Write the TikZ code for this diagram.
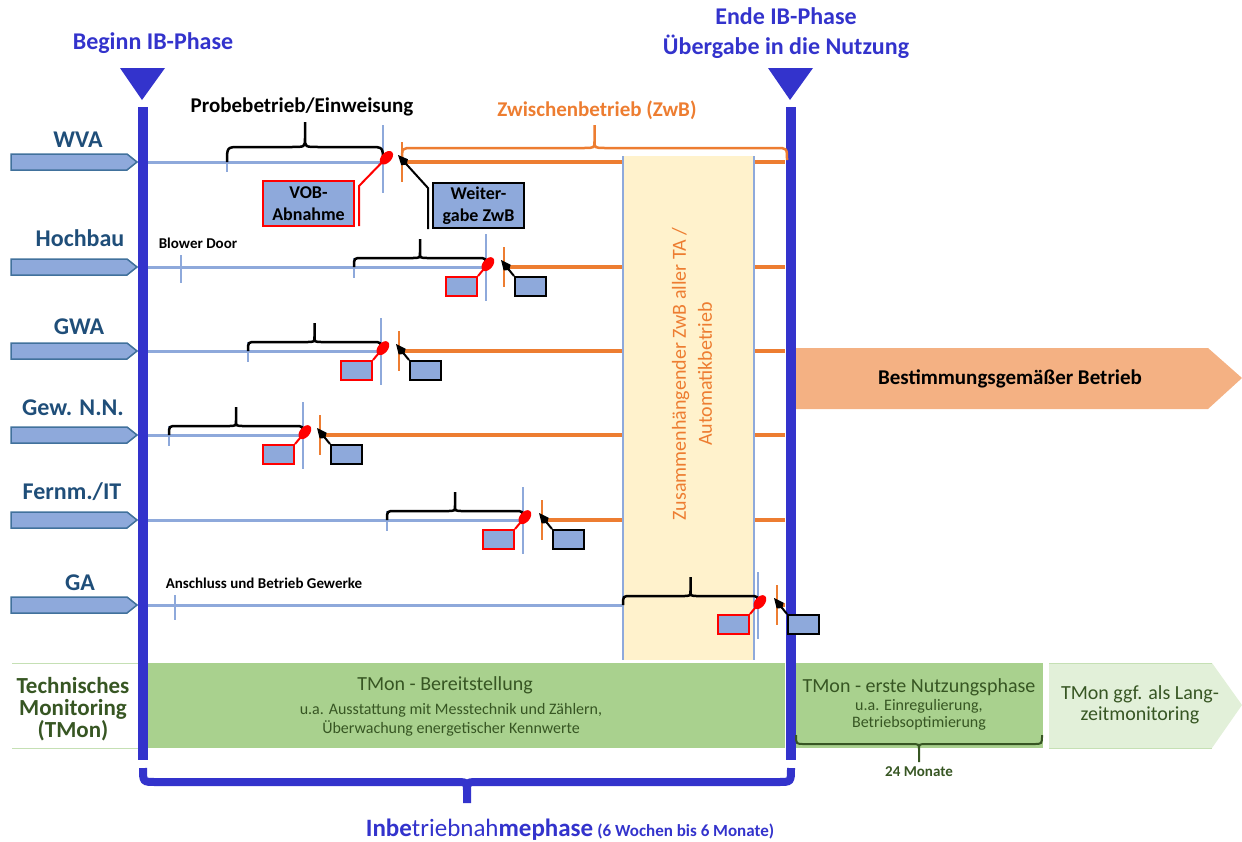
\documentclass[tikz,border=0pt]{standalone}
\usepackage{fontspec}
\setmainfont{Carlito}
\usepackage{tikz}
\usetikzlibrary{arrows.meta}

\definecolor{ibblue}{HTML}{3333CC}
\definecolor{rowblue}{HTML}{1F4E79}
\definecolor{lightblue}{HTML}{8EA9DB}
\definecolor{edgeblue}{HTML}{41719C}
\definecolor{zwborange}{HTML}{ED7D31}
\definecolor{zwbyellow}{HTML}{FFF2CC}
\definecolor{tmongreen}{HTML}{A9D18E}
\definecolor{tmonpale}{HTML}{E2F0D9}
\definecolor{tmonrand}{HTML}{C5E0B4}
\definecolor{tmondark}{HTML}{375623}
\definecolor{betriebfarbe}{HTML}{F4B183}

% curly brace: x1, x2, y of the ends, offset of the bar, offset of the tip, options
\newcommand{\klammer}[6]{%
  \pgfmathsetmacro{\kmitte}{(#1+#2)/2}%
  \pgfmathsetmacro{\kquer}{#3-(#4)}%
  \pgfmathsetmacro{\kknick}{#3-1.6*(#4)}%
  \pgfmathsetmacro{\kspitze}{#3-(#5)}%
  \pgfmathsetmacro{\krund}{0.9*abs(#4)}%
  \draw[#6] (#1,#3) .. controls (#1,\kquer) .. (#1+\krund,\kquer) -- (\kmitte-\krund,\kquer)
    .. controls (\kmitte,\kquer) .. (\kmitte,\kknick) -- (\kmitte,\kspitze) -- (\kmitte,\kknick)
    .. controls (\kmitte,\kquer) .. (\kmitte+\krund,\kquer) -- (#2-\krund,\kquer) .. controls (#2,\kquer) .. (#2,#3);
}

\begin{document}
\begin{tikzpicture}[x=1pt,y=-1pt,
    phasetitel/.style={text=ibblue, font={\bfseries\fontsize{24}{30}\selectfont}, align=center},
    zeilentitel/.style={text=rowblue, font={\bfseries\fontsize{24}{26}\selectfont}},
    zeilenpfeil/.style={fill=lightblue, draw=edgeblue, line width=1.5pt},
    zeitlinie/.style={lightblue, line width=3pt},
    zwblinie/.style={zwborange, line width=3.5pt},
    strich/.style={lightblue, line width=2.5pt},
    zwbstrich/.style={zwborange, line width=2.5pt},
    klammerstil/.style={black, line width=2.5pt},
    zwbklammer/.style={zwborange, line width=2.5pt},
    ibbalken/.style={ibblue, line width=10pt},
    vobbox/.style={draw=red, line width=2pt, fill=lightblue, inner sep=0pt, minimum width=31pt, minimum height=19pt,
      align=center, font={\bfseries\fontsize{18}{22}\selectfont}},
    wgbox/.style={draw=black, line width=2pt, fill=lightblue, inner sep=0pt, minimum width=31pt, minimum height=19pt,
      align=center, font={\bfseries\fontsize{18}{22}\selectfont}},
    vobzeiger/.style={red, line width=2pt, -{Ellipse[length=16pt,width=10pt]}},
    wgzeiger/.style={black, line width=2pt, -{Kite[length=13pt,width=9pt]}},
    klammertext/.style={font={\bfseries\fontsize{21}{25}\selectfont}},
    kleintext/.style={font={\bfseries\fontsize{15}{18}\selectfont}},
    tmontext/.style={text=tmondark, font={\fontsize{20}{21}\selectfont}, align=center},
    tmonklein/.style={text=tmondark, font={\fontsize{16}{18.5}\selectfont}, align=center}]

    \useasboundingbox (0,0) rectangle (1242,841);

    % draw monitoring bands
    \fill[tmongreen] (148,663) rectangle (785,748);
    \fill[tmongreen] (795,663) rectangle (1043,748);
    \fill[tmonpale] (1049,663) -- (1212,663) -- (1242,705) -- (1212,748) -- (1049,748) -- cycle;
    \draw[tmonrand, line width=1pt] (12,663) -- (140,663) (12,748) -- (140,748);
    \draw[tmonrand, line width=1pt] (1049,663) -- (1212,663) (1049,748) -- (1212,748);

    % draw arrow for regular operation
    \fill[betriebfarbe] (795,348) -- (1208,348) -- (1242,378) -- (1208,409) -- (795,409) -- cycle;

    % draw rows
    \foreach \id/\titel/\tx/\y/\ty/\be/\ot in {wva/WVA/78/162/140/383/402, hoch/Hochbau/80/267/238/486/504,
        gwa/GWA/79/351/327/381/399, gew/{Gew. N.N.}/73/435/408/303/320,
        fern/{Fernm./IT}/72/520/492/523/542, ga/GA/80/605/583/758/777}
    {
      \node[zeilentitel] (titel\id) at (\tx,\ty) {\titel};
      \draw[zeilenpfeil] (11,\y-8) -- (127,\y-8) -- (137,\y) -- (127,\y+8) -- (11,\y+8) -- cycle;
      \draw[zeitlinie] (146,\y) -- (\be,\y);
      \draw[zwblinie] (\ot,\y) -- (785,\y);
    }

    % draw box for continuous operation
    \fill[zwbyellow] (623,156) rectangle (754,660);
    \draw[lightblue, line width=1.5pt] (623,156) -- (623,660) (754,156) -- (754,660);
    \node[rotate=90, text=zwborange, font={\fontsize{20}{26}\selectfont}, align=center] (zwbtext) at (692,374)
      {Zusammenhängender ZwB aller TA /\\Automatikbetrieb};

    % draw phase bars
    \fill[ibblue] (120,68) -- (165,68) -- (142,100) -- cycle;
    \fill[ibblue] (768,68) -- (813,68) -- (790,100) -- cycle;
    \draw[ibbalken] (143,107) -- (143,760);
    \draw[ibbalken] (791,107) -- (791,760);
    \klammer{143}{791}{768}{-14}{-35}{ibblue, line width=8pt}

    % draw milestones of rows
    \foreach \id/\y/\bs/\be/\ot in {hoch/267/354/486/504, gwa/351/248/381/399, gew/435/169/303/320,
        fern/520/387/523/542, ga/605/623/758/777}
    {
      \draw[strich] (\bs,\y-9) -- (\bs,\y+11);
      \draw[strich] (\be,\y-33) -- (\be,\y+34);
      \draw[zwbstrich] (\ot,\y-20) -- (\ot,\y+20);
      \klammer{\bs}{\be}{\y}{9}{28}{klammerstil}
      \node[vobbox, anchor=north east] (vob\id) at (\be-8,\y+9) {};
      \node[wgbox, anchor=north west] (wg\id) at (\ot+10,\y+9) {};
      \draw[vobzeiger] (vob\id.north east) -- (\be+7,\y-9);
      \draw[wgzeiger] (wg\id.north west) -- (\ot-3,\y-7);
    }

    % WVA row
    \draw[strich] (227,152) -- (227,172);
    \draw[strich] (383,125) -- (383,193);
    \draw[zwbstrich] (402,142) -- (402,182);
    \klammer{227}{383}{162}{15}{40}{klammerstil}
    \klammer{402}{787}{160}{12}{35}{zwbklammer}
    \node[vobbox, minimum width=91pt, minimum height=45pt, anchor=north west] (vobwva) at (262,180) {VOB-\\Abnahme};
    \node[wgbox, minimum width=91pt, minimum height=45pt, anchor=north west] (wgwva) at (432,182) {Weiter-\\gabe ZwB};
    \draw[vobzeiger] ([xshift=4pt,yshift=1pt]vobwva.south east) -- ([xshift=4pt,yshift=-6pt]vobwva.north east) -- (392,152);
    \draw[wgzeiger] ([xshift=-4pt]wgwva.south west) -- ([xshift=-4pt,yshift=-6pt]wgwva.north west) -- (398,155);

    % extra ticks
    \draw[strich] (181,255) -- (181,283);
    \draw[strich] (175,595) -- (175,620);

    % draw texts
    \node[phasetitel] (beginn) at (153,43) {Beginn IB-Phase};
    \node[phasetitel] (ende) at (786,33) {Ende IB-Phase\\Übergabe in die Nutzung};
    \node[klammertext] (probe) at (302,107) {Probebetrieb/Einweisung};
    \node[klammertext, text=zwborange] (zwb) at (597,110) {Zwischenbetrieb (ZwB)};
    \node[kleintext] (blower) at (198,243) {Blower Door};
    \node[kleintext] (anschluss) at (264,583) {Anschluss und Betrieb Gewerke};
    \node[klammertext] (betrieb) at (1010,379) {Bestimmungsgemäßer Betrieb};

    \node[text=tmondark, font={\bfseries\fontsize{23}{22}\selectfont}, align=center] (tmontitel) at (73,709)
      {Technisches\\Monitoring\\(TMon)};
    \node[tmontext] (bereit) at (445,685) {TMon - Bereitstellung};
    \node[tmonklein] (bereitsub) at (451,720) {u.a. Ausstattung mit Messtechnik und Zählern,\\Überwachung energetischer Kennwerte};
    \node[tmontext] (nutzung) at (919,687) {TMon - erste Nutzungsphase};
    \node[tmonklein, font={\fontsize{16}{16.5}\selectfont}] (nutzungsub) at (919,715) {u.a. Einregulierung,\\Betriebsoptimierung};
    \node[tmontext] (langzeit) at (1140,705) {TMon ggf. als Lang-\\zeitmonitoring};
    \klammer{796}{1042}{735}{-9}{-27}{tmondark, line width=2pt}
    \node[text=tmondark, font={\bfseries\fontsize{15}{18}\selectfont}] (monate) at (919,772) {24 Monate};

    \node[text=ibblue] (ibphase) at (570,830)
      {\fontsize{25}{30}\selectfont\bfseries Inbe\mdseries triebnah\bfseries mephase\,\fontsize{17}{20}\selectfont(6 Wochen bis 6 Monate)};
\end{tikzpicture}
\end{document}
